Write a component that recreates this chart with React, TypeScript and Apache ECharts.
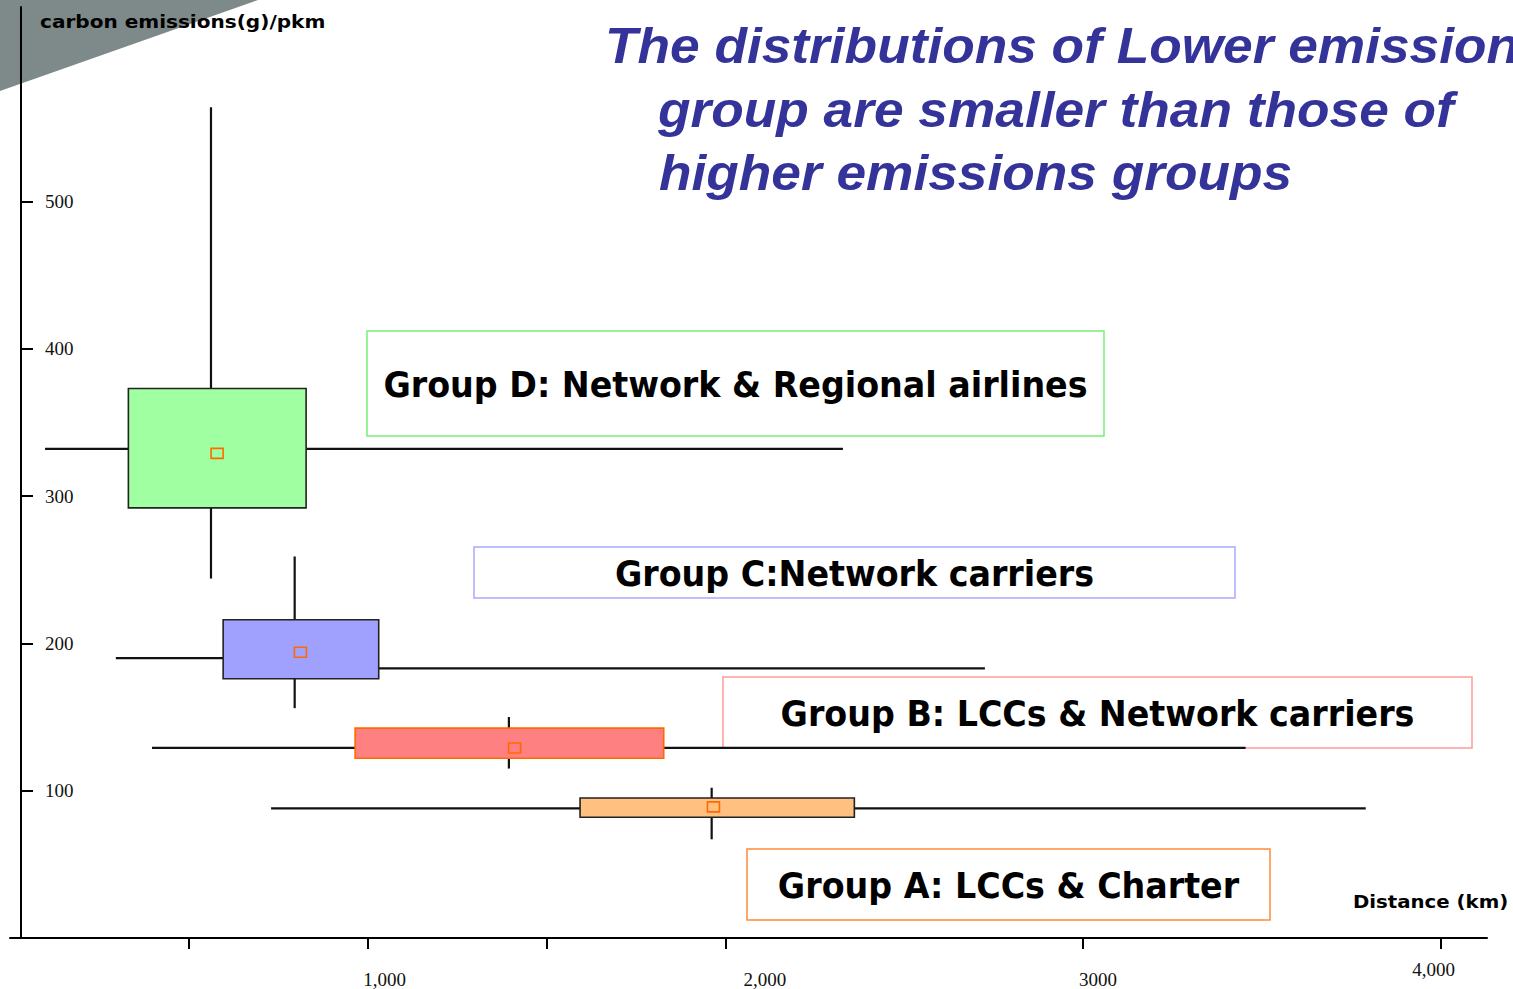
import React, { useEffect, useRef } from 'react';
import * as echarts from 'echarts';

// Four airline groups, from lowest to highest emissions
const groupLabels = [
  'Group A: LCCs & Charter',
  'Group B: LCCs & Network carriers',
  'Group C:Network carriers',
  'Group D: Network & Regional airlines',
];

// Distance (km) distribution per group
const distLow = [730, 397, 296, 98];
const distQ1 = [1594, 965, 596, 331];
const distMed = [1962, 1395, 796, 562];
const distQ3 = [2361, 1828, 1031, 828];
const distHigh = [3791, 3455, 2726, 2329];
const distMean = [1967, 1411, 812, 579];

// Carbon emissions (g/pkm) distribution per group
const emisLow = [67, 115, 156, 244];
const emisQ1 = [82, 122, 176, 292];
const emisWhiskerL = [88, 129, 190, 332];
const emisWhiskerR = [88, 129, 183, 332];
const emisQ3 = [95, 142.5, 216, 373];
const emisHigh = [102, 150, 259, 564];
const emisMean = [89, 129, 194, 329];

// Axis ticks and labels
const xTickValues = [500, 1000, 1500, 2000, 3000, 4000];
const xLabelValues = [1000, 2000, 3000, 4000];
const xLabelTexts = ['1,000', '2,000', '3000', '4,000'];
const yTickValues = [100, 200, 300, 400, 500];

const titleLines = [
  'The distributions of Lower emission',
  'group are smaller than those of',
  'higher emissions groups',
];

const boxFill = ['#ffc080', '#ff8080', '#a0a0ff', '#a0ffa0'];
const boxStroke = ['#222222', '#ff6a00', '#222222', '#222222'];
const noteStroke = ['#ff8a3a', '#ff9a9a', '#a8a8ff', '#77ee77'];
// note boxes: [left, top, width, height]
const noteRects = [
  [747, 849, 523, 71],
  [723, 677, 749, 71],
  [474, 547, 761, 51],
  [367, 331, 737, 105],
];

const LABEL_FONT = '"DejaVu Sans", Verdana, sans-serif';
const SERIF = '"Liberation Serif", "Times New Roman", serif';

export default function App() {
  const ref = useRef<HTMLDivElement>(null);

  useEffect(() => {
    if (!ref.current) return;
    const chart = echarts.init(ref.current, null, { renderer: 'svg' });

    const data = groupLabels.map((_, i) => [
      distLow[i], distQ1[i], distMed[i], distQ3[i], distHigh[i],
      emisLow[i], emisQ1[i], emisWhiskerL[i], emisWhiskerR[i], emisQ3[i], emisHigh[i],
      distMean[i], emisMean[i],
    ]);

    const renderItem = (params: any, api: any) => {
      const i = params.dataIndex;
      const v = (d: number) => api.value(d) as number;
      const px = (x: number) => api.coord([x, 0])[0];
      const py = (y: number) => api.coord([0, y])[1];
      const lineStyle = { stroke: '#111', lineWidth: 2.2 };
      const xm = px(v(2));
      const left = px(v(1));
      const right = px(v(3));
      const top = py(v(9));
      const bottom = py(v(6));
      const mx = px(v(11));
      const my = py(v(12));
      return {
        type: 'group',
        children: [
          { type: 'line', shape: { x1: px(v(0)), y1: py(v(7)), x2: left, y2: py(v(7)) }, style: lineStyle },
          { type: 'line', shape: { x1: right, y1: py(v(8)), x2: px(v(4)), y2: py(v(8)) }, style: lineStyle },
          { type: 'line', shape: { x1: xm, y1: py(v(10)), x2: xm, y2: top }, style: lineStyle },
          { type: 'line', shape: { x1: xm, y1: bottom, x2: xm, y2: py(v(5)) }, style: lineStyle },
          {
            type: 'rect',
            shape: { x: left, y: top, width: right - left, height: bottom - top },
            style: { fill: boxFill[i], stroke: boxStroke[i], lineWidth: 1.6 },
          },
          {
            type: 'rect',
            shape: { x: mx - 6, y: my - 5, width: 12, height: 10 },
            style: { fill: 'none', stroke: '#ff6a00', lineWidth: 1.6 },
          },
        ],
      };
    };

    const graphics: any[] = [
      {
        type: 'polygon',
        z: -5,
        shape: { points: [[0, 0], [258, 0], [0, 91]] },
        style: { fill: '#7e8a8a' },
      },
      {
        type: 'text',
        x: 40,
        y: 22,
        scaleX: 1.18,
        style: {
          text: 'carbon emissions(g)/pkm',
          font: `bold 17px ${LABEL_FONT}`,
          fill: '#000',
          textAlign: 'left',
          textVerticalAlign: 'middle',
        },
      },
      {
        type: 'text',
        x: 1353,
        y: 902,
        scaleX: 1.16,
        style: {
          text: 'Distance (km)',
          font: `bold 17px ${LABEL_FONT}`,
          fill: '#000',
          textAlign: 'left',
          textVerticalAlign: 'middle',
        },
      },
    ];

    const titleX = [605, 658, 659];
    const titleY = [46, 110, 173];
    titleLines.forEach((t, k) => {
      graphics.push({
        type: 'text',
        x: titleX[k],
        y: titleY[k],
        scaleX: 1.065,
        style: {
          text: t,
          font: 'italic bold 50px "Liberation Sans", Arial, sans-serif',
          fill: '#333399',
          textAlign: 'left',
          textVerticalAlign: 'middle',
        },
      });
    });

    groupLabels.forEach((label, i) => {
      const [l, t, w, h] = noteRects[i];
      graphics.push({
        type: 'rect',
        shape: { x: l, y: t, width: w, height: h },
        style: { fill: 'none', stroke: noteStroke[i], lineWidth: 1.5 },
      });
      graphics.push({
        type: 'text',
        x: l + w / 2,
        y: t + h / 2 + 1.5,
        scaleX: 0.952,
        style: {
          text: label,
          font: `bold 35px ${LABEL_FONT}`,
          fill: '#000',
          textAlign: 'center',
          textVerticalAlign: 'middle',
        },
      });
    });

    const xRich: Record<string, any> = {
      l0: { padding: [10, 0, 0, 34] },
      l1: { padding: [10, 0, 0, 79] },
      l2: { padding: [10, 0, 0, 30] },
      l3: { padding: [0, 14, 0, 0] },
    };

    chart.setOption({
      animation: false,
      backgroundColor: '#ffffff',
      grid: { left: 10, right: 26, top: 7, bottom: 50, containLabel: false },
      xAxis: {
        type: 'value',
        min: 0,
        max: 4130,
        splitLine: { show: false },
        axisLine: { show: true, onZero: false, lineStyle: { color: '#000', width: 2 } },
        axisTick: {
          show: true,
          customValues: xTickValues,
          length: 11,
          lineStyle: { color: '#000', width: 2 },
        },
        axisLabel: {
          customValues: xLabelValues,
          margin: 22,
          formatter: (val: number) => {
            const k = xLabelValues.indexOf(val);
            return k < 0 ? '' : `{l${k}|${xLabelTexts[k]}}`;
          },
          fontFamily: SERIF,
          fontSize: 19,
          color: '#111',
          rich: Object.fromEntries(
            Object.entries(xRich).map(([k, s]) => [k, { ...s, fontFamily: SERIF, fontSize: 19, color: '#111' }])
          ),
        },
      },
      yAxis: {
        type: 'value',
        min: 0,
        max: 632,
        offset: -11,
        splitLine: { show: false },
        axisLine: { show: true, onZero: false, lineStyle: { color: '#000', width: 2 } },
        axisTick: {
          show: true,
          inside: true,
          customValues: yTickValues,
          length: 12,
          lineStyle: { color: '#000', width: 2 },
        },
        axisLabel: {
          inside: true,
          customValues: yTickValues,
          margin: 24,
          padding: [2, 0, 0, 0],
          fontFamily: SERIF,
          fontSize: 19,
          color: '#111',
        },
      },
      graphic: { elements: graphics },
      series: [
        {
          type: 'custom',
          renderItem,
          data,
          encode: { x: [0, 4], y: [5, 10] },
          clip: false,
          z: 3,
        },
      ],
    });

    return () => chart.dispose();
  }, []);

  return (
    <div
      ref={ref}
      style={{ position: 'fixed', left: 0, top: 0, width: 1513, height: 989, background: '#fff' }}
    />
  );
}
